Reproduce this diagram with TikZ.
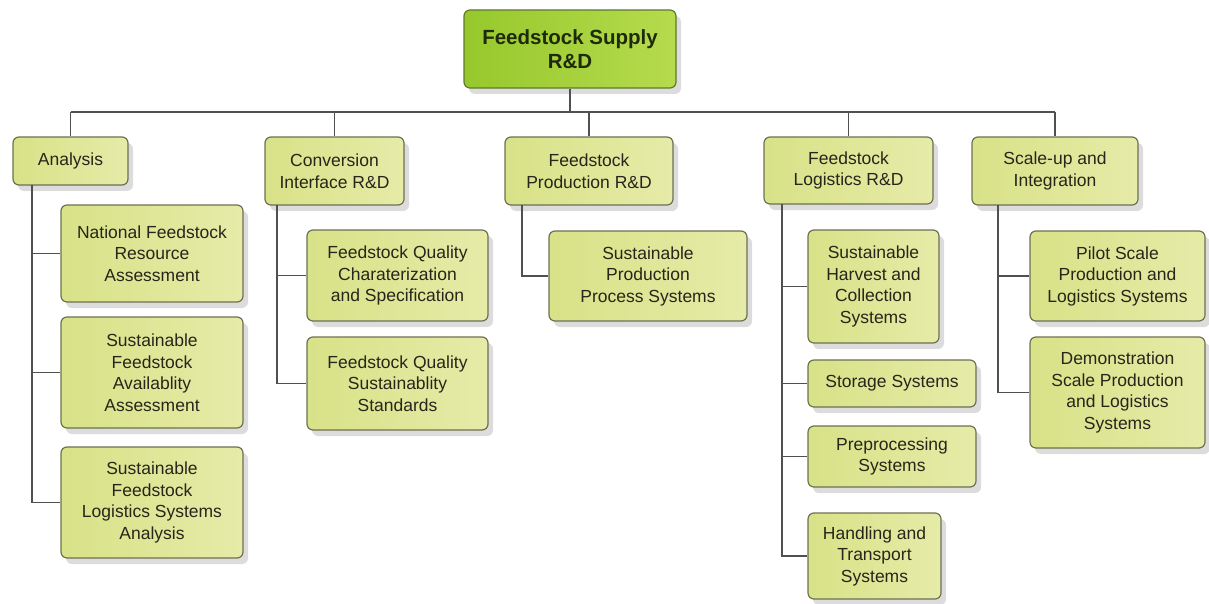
\documentclass[tikz,border=0pt]{standalone}
\usepackage{fontspec}
\setmainfont{Liberation Sans}
\usetikzlibrary{shadows}
\definecolor{boxL}{HTML}{D8E287}
\definecolor{boxR}{HTML}{E6EBA8}
\definecolor{boxedge}{HTML}{6E7052}
\definecolor{txt}{HTML}{26261A}
\definecolor{topL}{HTML}{96C82C}
\definecolor{topR}{HTML}{B6DB4E}
\definecolor{topedge}{HTML}{5E7A2A}
\definecolor{toptxt}{HTML}{1E2A0A}
\definecolor{wire}{HTML}{505050}
\begin{document}
\begin{tikzpicture}[x=1pt,y=-1pt,
  box/.style={draw=boxedge, line width=1.2pt, rounded corners=6pt,
    left color=boxL, right color=boxR, align=center, text=txt,
    font=\fontsize{17.5}{21.5}\selectfont, inner sep=0pt,
    drop shadow={opacity=0.28, shadow xshift=5pt, shadow yshift=-6pt}},
  topbox/.style={box, draw=topedge, left color=topL, right color=topR,
    text=toptxt, font=\bfseries\fontsize{20.5}{24}\selectfont},
  wirestyle/.style={draw=wire, line width=1.3pt}]
\useasboundingbox (0,0) rectangle (1209,604);

% level 1
\node[topbox, minimum width=212pt, minimum height=78pt] (top) at (570,49) {Feedstock Supply\\R\&D};

% level 2
\node[box, minimum width=115pt, minimum height=48pt] (ana) at (70.5,161) {Analysis};
\node[box, minimum width=139pt, minimum height=68pt] (conv) at (334.5,171) {Conversion\\Interface R\&D};
\node[box, minimum width=168pt, minimum height=68pt] (prod) at (589,171) {Feedstock\\Production R\&D};
\node[box, minimum width=169pt, minimum height=67pt] (log) at (848.5,170.5) {Feedstock\\Logistics R\&D};
\node[box, minimum width=166pt, minimum height=68pt] (sc) at (1055,171) {Scale-up and\\Integration};

% level 3 - analysis
\node[box, minimum width=182pt, minimum height=97pt] (a1) at (152,253.5) {National Feedstock\\Resource\\Assessment};
\node[box, minimum width=182pt, minimum height=111pt] (a2) at (152,372.5) {Sustainable\\Feedstock\\Availablity\\Assessment};
\node[box, minimum width=182pt, minimum height=111pt] (a3) at (152,502.5) {Sustainable\\Feedstock\\Logistics Systems\\Analysis};

% conversion
\node[box, minimum width=181pt, minimum height=91pt] (c1) at (397.5,275.5) {Feedstock Quality\\Charaterization\\and Specification};
\node[box, minimum width=181pt, minimum height=93pt] (c2) at (397.5,383.5) {Feedstock Quality\\Sustainablity\\Standards};

% production
\node[box, minimum width=198pt, minimum height=90pt] (p1) at (648,276) {Sustainable\\Production\\Process Systems};

% logistics
\node[box, minimum width=131pt, minimum height=113pt] (l1) at (873.5,286.5) {Sustainable\\Harvest and\\Collection\\Systems};
\node[box, minimum width=168pt, minimum height=47pt] (l2) at (892,383.5) {Storage Systems};
\node[box, minimum width=168pt, minimum height=61pt] (l3) at (892,456.5) {Preprocessing\\Systems};
\node[box, minimum width=133pt, minimum height=86pt] (l4) at (874.5,556) {Handling and\\Transport\\Systems};

% scale-up
\node[box, minimum width=175pt, minimum height=90pt] (s1) at (1117.5,276) {Pilot Scale\\Production and\\Logistics Systems};
\node[box, minimum width=175pt, minimum height=111pt] (s2) at (1117.5,392.5) {Demonstration\\Scale Production\\and Logistics\\Systems};

% connectors
\coordinate (bar) at (0,112);
\draw[wirestyle] (top.south) -- (top.south |- bar);
\draw[wirestyle] (ana.north |- bar) -- (sc.north |- bar);
\foreach \n in {ana,conv,prod,log,sc} \draw[wirestyle] (\n.north |- bar) -- (\n.north);

\coordinate (sa) at (32,185);
\coordinate (sconv) at (277,205);
\coordinate (sprod) at (522,205);
\coordinate (slog) at (782,204);
\coordinate (ssc) at (998,205);

\draw[wirestyle] (sa) |- (a3.west);
\draw[wirestyle] (a1.west) -- (a1.west -| sa);
\draw[wirestyle] (a2.west) -- (a2.west -| sa);

\draw[wirestyle] (sconv) |- (c2.west);
\draw[wirestyle] (c1.west) -- (c1.west -| sconv);

\draw[wirestyle] (sprod) |- (p1.west);

\draw[wirestyle] (slog) |- (l4.west);
\draw[wirestyle] (l1.west) -- (l1.west -| slog);
\draw[wirestyle] (l2.west) -- (l2.west -| slog);
\draw[wirestyle] (l3.west) -- (l3.west -| slog);

\draw[wirestyle] (ssc) |- (s2.west);
\draw[wirestyle] (s1.west) -- (s1.west -| ssc);
\end{tikzpicture}
\end{document}
